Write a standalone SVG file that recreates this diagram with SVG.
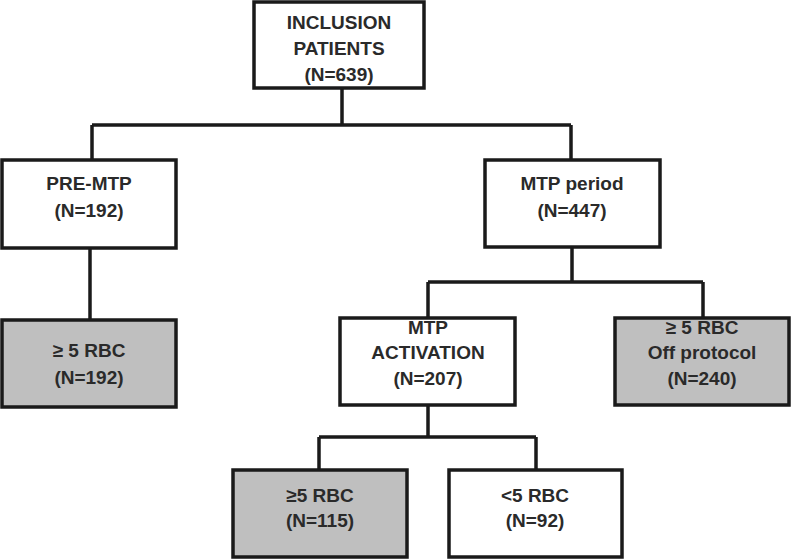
<svg xmlns="http://www.w3.org/2000/svg" width="791" height="559" viewBox="0 0 791 559">
<style>
.box{stroke:#1a1a1a;stroke-width:3.5;fill:#ffffff}
.gray{fill:#bfbfbf}
.conn{stroke:#1a1a1a;stroke-width:3.5;fill:none}
text{font-family:"Liberation Sans",Arial,sans-serif;font-size:19px;font-weight:bold;fill:#2a2a2a;text-anchor:middle;dominant-baseline:central}
</style>
<rect width="791" height="559" fill="#ffffff"/>
<g id="connectors">
<path class="conn" d="M342 88 V125 M92 125 H571 M92 125 V160 M571 125 V160"/>
<path class="conn" d="M90 248 V320"/>
<path class="conn" d="M572 247 V282 M428 282 H703 M428 282 V318 M703 282 V318"/>
<path class="conn" d="M428 405 V437 M319 437 H536 M319 437 V470 M536 437 V470"/>
</g>
<g id="inclusion">
<rect class="box" x="254" y="2" width="170" height="86"/>
<text x="339" y="22">INCLUSION</text>
<text x="339" y="48">PATIENTS</text>
<text x="339" y="74">(N=639)</text>
</g>
<g id="premtp">
<rect class="box" x="2" y="160" width="174" height="88"/>
<text x="89" y="183">PRE-MTP</text>
<text x="89" y="210">(N=192)</text>
</g>
<g id="premtp-rbc">
<rect class="box gray" x="2" y="320" width="174" height="87"/>
<text x="89" y="350">≥ 5 RBC</text>
<text x="89" y="377">(N=192)</text>
</g>
<g id="mtp-period">
<rect class="box" x="485" y="160" width="175" height="87"/>
<text x="572" y="183">MTP period</text>
<text x="572" y="210">(N=447)</text>
</g>
<g id="mtp-activation">
<rect class="box" x="340" y="318" width="175" height="87"/>
<text x="428" y="327">MTP</text>
<text x="428" y="352">ACTIVATION</text>
<text x="428" y="378">(N=207)</text>
</g>
<g id="off-protocol">
<rect class="box gray" x="615" y="318" width="174" height="87"/>
<text x="702" y="327">≥ 5 RBC</text>
<text x="702" y="352">Off protocol</text>
<text x="702" y="378">(N=240)</text>
</g>
<g id="rbc-115">
<rect class="box gray" x="233" y="470" width="174" height="87"/>
<text x="320" y="495">≥5 RBC</text>
<text x="320" y="520">(N=115)</text>
</g>
<g id="rbc-92">
<rect class="box" x="449" y="470" width="173" height="87"/>
<text x="535" y="495">&lt;5 RBC</text>
<text x="535" y="520">(N=92)</text>
</g>
</svg>
